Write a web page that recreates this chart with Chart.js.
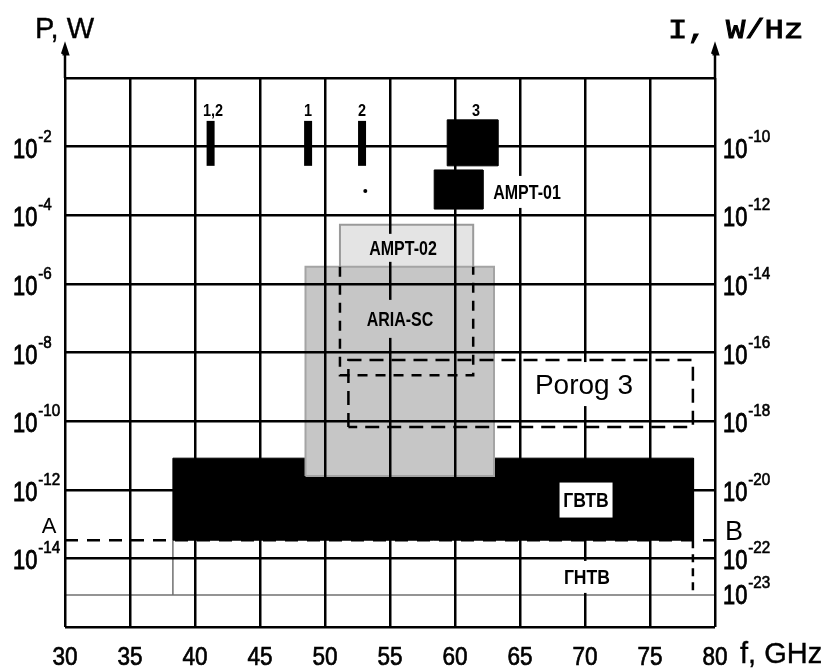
<!DOCTYPE html>
<html>
<head>
<meta charset="utf-8">
<title>P, W / I, W/Hz vs f, GHz</title>
<script src="https://cdn.jsdelivr.net/npm/chart.js@4.4.1/dist/chart.umd.min.js"></script>
<style>
  html, body { margin: 0; padding: 0; background: #fff; }
  #wrap { width: 824px; height: 668px; }
</style>
</head>
<body>
<div id="wrap"><canvas id="chart" width="824" height="668"></canvas></div>
<script>
// frequency axis, GHz
const freqTicks = [30, 35, 40, 45, 50, 55, 60, 65, 70, 75, 80];
// power axis (lg P, W): gridlines and labelled ticks
const powerGridExp = [0, -2, -4, -6, -8, -10, -12, -14, -16];
const powerLabelExp = [-2, -4, -6, -8, -10, -12, -14];
// spectral density axis (lg I, W/Hz)
const densityLabelExp = [-10, -12, -14, -16, -18, -20, -22, -23];

// bands: [f from, f to, lg P low, lg P high]
const gvtvBand = [38.3, 78.35, -13.47, -11.08];
const gntvBand = [38.3, 78.3, -15.07, -13.47];
const ariaBand = [48.5, 63.0, -11.6, -5.5];
const ampt02Band = [51.15, 61.4, -8.66, -4.28];
const porog3Band = [51.8, 78.3, -10.17, -8.22];
const ampt01Band = [58.4, 62.15, -3.82, -2.68];
const source3Band = [59.4, 63.3, -2.56, -1.22];
// narrow lines "1,2", "1", "2"
const lineFreqs = [41.2, 48.7, 52.85];
const lineRange = [-2.56, -1.25];
const dotPoint = [53.1, -3.29];
// A - B level
const abLevel = -13.47;

const P = e => Math.pow(10, e);
const SANS = '"Liberation Sans", Arial, sans-serif';

function rect(b) {
  return [
    { x: b[0], y: P(b[2]) }, { x: b[0], y: P(b[3]) },
    { x: b[1], y: P(b[3]) }, { x: b[1], y: P(b[2]) },
    { x: b[0], y: P(b[2]) }
  ];
}
function vline(f, e1, e2) { return [{ x: f, y: P(e1) }, { x: f, y: P(e2) }]; }
function hline(f1, f2, e) { return [{ x: f1, y: P(e) }, { x: f2, y: P(e) }]; }

// datasets listed back to front
const layers = [];
function add(ds) {
  layers.push(Object.assign({ pointRadius: 0, borderWidth: 0, fill: false, tension: 0 }, ds));
}

const fMin = freqTicks[0], fMax = freqTicks[freqTicks.length - 1];

add({ data: hline(fMin, fMax, gntvBand[2]), borderColor: '#707070', borderWidth: 1.5 });
add({ data: vline(gntvBand[0], gntvBand[3], gntvBand[2]), borderColor: '#707070', borderWidth: 1.5 });
add({ data: vline(gntvBand[1], gntvBand[3], gntvBand[2]), borderColor: '#000', borderWidth: 2.5, borderDash: [8, 6] });
add({ data: hline(fMin, fMax, abLevel), borderColor: '#000', borderWidth: 2.5, borderDash: [13, 9] });
add({ data: rect(gvtvBand), fill: 'shape', backgroundColor: '#000', borderColor: '#000', borderWidth: 1 });
add({ data: rect(ampt02Band), fill: 'shape', backgroundColor: '#e4e4e4', borderColor: '#9a9a9a', borderWidth: 2 });
add({ data: rect(ariaBand), fill: 'shape', backgroundColor: '#c6c6c6', borderColor: '#a4a4a4', borderWidth: 2 });
// hidden part of AMPT-02 outline
add({
  data: [
    { x: ampt02Band[0], y: P(ariaBand[3]) }, { x: ampt02Band[0], y: P(ampt02Band[2]) },
    { x: ampt02Band[1], y: P(ampt02Band[2]) }, { x: ampt02Band[1], y: P(ariaBand[3]) }
  ],
  borderColor: '#000', borderWidth: 2.5, borderDash: [10, 8]
});
add({ data: rect(porog3Band), borderColor: '#000', borderWidth: 2.5, borderDash: [14, 8] });
add({ data: rect(ampt01Band), fill: 'shape', backgroundColor: '#000', borderColor: '#000', borderWidth: 1 });
add({ data: rect(source3Band), fill: 'shape', backgroundColor: '#000', borderColor: '#000', borderWidth: 1 });
lineFreqs.forEach(f => add({ data: vline(f, lineRange[0], lineRange[1]), borderColor: '#000', borderWidth: 8 }));
add({ data: [{ x: dotPoint[0], y: P(dotPoint[1]) }], pointRadius: 2, pointBackgroundColor: '#000', pointBorderWidth: 0, showLine: false });
// axis arrows: shaft and a small closed head
[fMin, fMax].forEach(f => {
  add({ data: vline(f, 0, 0.8), borderColor: '#000', borderWidth: 2.5, clip: false });
  add({
    data: [{ x: f - 0.2, y: P(0.7) }, { x: f, y: P(0.93) }, { x: f + 0.2, y: P(0.7) }, { x: f - 0.2, y: P(0.7) }],
    borderColor: '#000', borderWidth: 3, borderJoinStyle: 'miter', clip: false
  });
});
layers.forEach((d, i) => { d.order = layers.length - i; });

// text labels on the plot: [text, f, lg P (centre), font, scaleX, background]
const plotLabels = [
  ['1,2', 41.38, -0.93, 'bold 17px ' + SANS, 0.85, null],
  ['1', 48.69, -0.93, 'bold 17px ' + SANS, 0.85, null],
  ['2', 52.85, -0.93, 'bold 17px ' + SANS, 0.85, null],
  ['3', 61.62, -0.93, 'bold 17px ' + SANS, 0.85, null],
  ['AMPT-01', 65.54, -3.32, 'bold 20px ' + SANS, 0.8, ['#fff', 82, 32]],
  ['AMPT-02', 56.0, -4.95, 'bold 20px ' + SANS, 0.8, ['#e4e4e4', 80, 28]],
  ['ARIA-SC', 55.77, -7.02, 'bold 20px ' + SANS, 0.8, ['#c6c6c6', 80, 38]],
  ['Porog 3', 69.92, -8.92, '28px ' + SANS, 1, ['#fff', 114, 44]],
  ['ГВТВ', 70.08, -12.3, 'bold 20px ' + SANS, 0.88, ['#fff', 53, 35]],
  ['ГНТВ', 70.15, -14.54, 'bold 20px ' + SANS, 0.88, ['#fff', 58, 32]]
];

// heavy = extra outline width, the scanned original has thick strokes
function drawText(ctx, text, x, y, font, sx, align, heavy) {
  ctx.save();
  ctx.font = font;
  ctx.textAlign = align || 'center';
  ctx.textBaseline = 'alphabetic';
  ctx.translate(x, y);
  ctx.scale(sx || 1, 1);
  ctx.fillText(text, 0, 0);
  if (heavy) {
    ctx.lineWidth = heavy;
    ctx.strokeStyle = '#000';
    ctx.strokeText(text, 0, 0);
  }
  ctx.restore();
}

function drawPow(ctx, x, yMid, e) {
  const base = yMid + 11;
  ctx.font = '28px ' + SANS;
  const w = ctx.measureText('10').width * 0.78;
  drawText(ctx, '10', x, base, '28px ' + SANS, 0.78, 'left', 0.9);
  drawText(ctx, '-' + Math.abs(e), x + w + 1, base - 16, '16px ' + SANS, 0.95, 'left', 0.6);
}

const annotate = {
  id: 'annotate',
  afterDraw(chart) {
    const { ctx, chartArea: area } = chart;
    const { x, y, y2 } = chart.scales;
    ctx.save();
    ctx.fillStyle = '#000';

    powerLabelExp.forEach(e => drawPow(ctx, area.left - 52, y.getPixelForValue(P(e)), e));
    densityLabelExp.forEach(e => drawPow(ctx, area.right + 8, y2.getPixelForValue(P(e)), e));
    freqTicks.forEach(f => drawText(ctx, String(f), x.getPixelForValue(f), area.bottom + 38, '25px ' + SANS, 0.9, 'center', 0.7));

    drawText(ctx, 'f, GHz', area.right + 25, area.bottom + 36, '29px ' + SANS, 1, 'left', 0.4);
    drawText(ctx, 'P, W', area.left - 30, 38, '29px ' + SANS, 1, 'left', 0.4);
    drawText(ctx, 'I, W/Hz', area.right - 47, 38, '28px "Liberation Mono", "Courier New", monospace', 1.15, 'left', 1);
    drawText(ctx, 'A', area.left - 16, y.getPixelForValue(P(-13.03)) + 8, '22px ' + SANS, 1);
    drawText(ctx, 'B', area.right + 19, y.getPixelForValue(P(-13.17)) + 10, '27px ' + SANS, 1);

    plotLabels.forEach(([text, f, e, font, sx, bg]) => {
      const px = x.getPixelForValue(f);
      const py = y.getPixelForValue(P(e));
      if (bg) {
        ctx.fillStyle = bg[0];
        ctx.fillRect(px - bg[1] / 2, py - bg[2] / 2, bg[1], bg[2]);
        ctx.fillStyle = '#000';
      }
      const size = parseFloat(font.match(/(\d+)px/)[1]);
      drawText(ctx, text, px, py + size * 0.36, font, sx);
    });
    ctx.restore();
  }
};

// grid above the datasets (grid.z > 0), as in the original
const gridStyle = { color: '#000', lineWidth: 2.5, drawTicks: false, z: 1 };

new Chart(document.getElementById('chart'), {
  type: 'line',
  data: { datasets: layers },
  options: {
    responsive: false,
    animation: false,
    events: [],
    layout: { padding: { left: 65, right: 109, top: 78, bottom: 41 } },
    plugins: { legend: { display: false }, tooltip: { enabled: false } },
    scales: {
      x: {
        type: 'linear', min: fMin, max: fMax,
        grid: gridStyle, border: { display: false },
        ticks: { display: false },
        afterBuildTicks: s => { s.ticks = freqTicks.map(v => ({ value: v })); },
        afterFit: s => { s.height = 0; }
      },
      y: {
        type: 'logarithmic', min: P(-16), max: P(0),
        grid: gridStyle, border: { display: false },
        ticks: { display: false },
        afterBuildTicks: s => { s.ticks = powerGridExp.map(e => ({ value: P(e) })); },
        afterFit: s => { s.width = 0; }
      },
      y2: {
        type: 'logarithmic', min: P(-24), max: P(-8), position: 'right',
        display: false
      }
    }
  },
  plugins: [annotate]
});
</script>
</body>
</html>
